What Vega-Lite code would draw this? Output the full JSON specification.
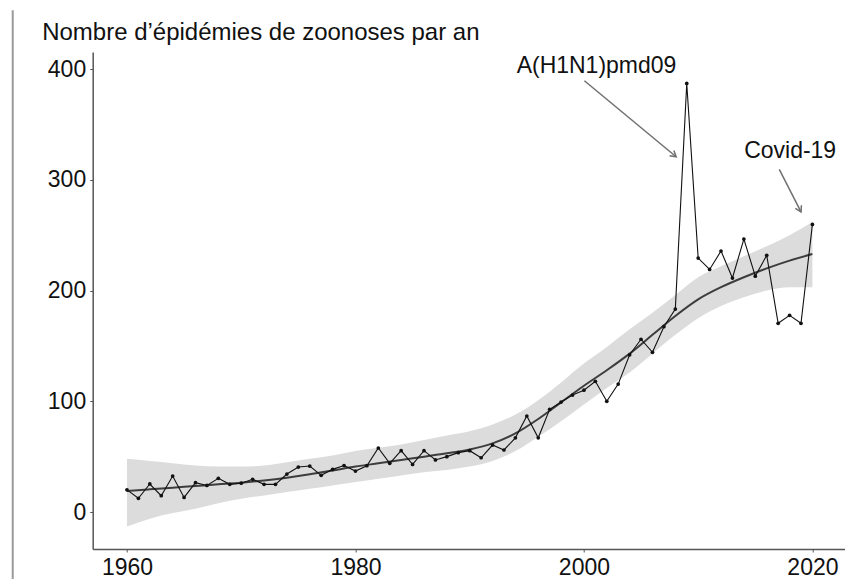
{
  "$schema": "https://vega.github.io/schema/vega-lite/v6.json",
  "width": 754,
  "height": 497,
  "autosize": {"type": "none"},
  "padding": {"left": 92.7, "top": 52, "right": 0, "bottom": 30},
  "background": "white",
  "config": {
    "view": {"stroke": null},
    "axis": {
      "grid": false,
      "domainColor": "#555555",
      "domainWidth": 1.5,
      "tickColor": "#555555",
      "tickSize": 3,
      "tickWidth": 1,
      "labelFont": "Liberation Sans",
      "labelFontSize": 23,
      "labelColor": "#111111"
    }
  },
  "datasets": {
    "pts": [
      {"year": 1960, "n": 20}, {"year": 1961, "n": 12.4}, {"year": 1962, "n": 25.3}, {"year": 1963, "n": 14.7},
      {"year": 1964, "n": 32.5}, {"year": 1965, "n": 13.2}, {"year": 1966, "n": 26.5}, {"year": 1967, "n": 24},
      {"year": 1968, "n": 30.4}, {"year": 1969, "n": 25}, {"year": 1970, "n": 26}, {"year": 1971, "n": 29.5},
      {"year": 1972, "n": 25}, {"year": 1973, "n": 25}, {"year": 1974, "n": 34.3}, {"year": 1975, "n": 40.6},
      {"year": 1976, "n": 41.5}, {"year": 1977, "n": 33.1}, {"year": 1978, "n": 38.5}, {"year": 1979, "n": 42},
      {"year": 1980, "n": 37}, {"year": 1981, "n": 41.8}, {"year": 1982, "n": 57.8}, {"year": 1983, "n": 44},
      {"year": 1984, "n": 55.4}, {"year": 1985, "n": 43}, {"year": 1986, "n": 55.4}, {"year": 1987, "n": 47},
      {"year": 1988, "n": 50}, {"year": 1989, "n": 53.6}, {"year": 1990, "n": 55.4}, {"year": 1991, "n": 49},
      {"year": 1992, "n": 60.5}, {"year": 1993, "n": 56}, {"year": 1994, "n": 67}, {"year": 1995, "n": 86.7},
      {"year": 1996, "n": 67}, {"year": 1997, "n": 92.7}, {"year": 1998, "n": 99.3}, {"year": 1999, "n": 105.6},
      {"year": 2000, "n": 110}, {"year": 2001, "n": 118}, {"year": 2002, "n": 100}, {"year": 2003, "n": 115.5},
      {"year": 2004, "n": 142}, {"year": 2005, "n": 156}, {"year": 2006, "n": 144.2}, {"year": 2007, "n": 167.3},
      {"year": 2008, "n": 183.3}, {"year": 2009, "n": 387}, {"year": 2010, "n": 229.3}, {"year": 2011, "n": 219},
      {"year": 2012, "n": 235.7}, {"year": 2013, "n": 211.3}, {"year": 2014, "n": 246.5}, {"year": 2015, "n": 213},
      {"year": 2016, "n": 231.8}, {"year": 2017, "n": 170.4}, {"year": 2018, "n": 177.6}, {"year": 2019, "n": 170.4},
      {"year": 2020, "n": 259.7}
    ],
    "fit": [
      {"year": 1960, "fit": 19, "lo": -13, "hi": 48},
      {"year": 1962, "fit": 20.5, "lo": -6, "hi": 46},
      {"year": 1964, "fit": 22, "lo": -1, "hi": 44},
      {"year": 1966, "fit": 23.5, "lo": 3, "hi": 42},
      {"year": 1968, "fit": 25, "lo": 8, "hi": 41},
      {"year": 1970, "fit": 26.5, "lo": 12, "hi": 41},
      {"year": 1972, "fit": 28.5, "lo": 15, "hi": 42},
      {"year": 1974, "fit": 31, "lo": 18, "hi": 45},
      {"year": 1976, "fit": 34, "lo": 21, "hi": 48},
      {"year": 1978, "fit": 37.5, "lo": 24, "hi": 51},
      {"year": 1980, "fit": 41, "lo": 27, "hi": 55},
      {"year": 1982, "fit": 44, "lo": 30, "hi": 58},
      {"year": 1984, "fit": 47, "lo": 33, "hi": 61},
      {"year": 1986, "fit": 50, "lo": 36, "hi": 65},
      {"year": 1988, "fit": 53, "lo": 38, "hi": 69},
      {"year": 1990, "fit": 56.5, "lo": 41, "hi": 73},
      {"year": 1992, "fit": 62, "lo": 46, "hi": 79},
      {"year": 1994, "fit": 71, "lo": 55, "hi": 88},
      {"year": 1996, "fit": 84, "lo": 68, "hi": 101},
      {"year": 1998, "fit": 99, "lo": 82, "hi": 117},
      {"year": 2000, "fit": 114, "lo": 97, "hi": 134},
      {"year": 2002, "fit": 128, "lo": 112, "hi": 149},
      {"year": 2004, "fit": 143, "lo": 126, "hi": 165},
      {"year": 2006, "fit": 160, "lo": 143, "hi": 180},
      {"year": 2008, "fit": 177, "lo": 160, "hi": 196},
      {"year": 2010, "fit": 192, "lo": 175, "hi": 212},
      {"year": 2012, "fit": 203, "lo": 186, "hi": 222},
      {"year": 2014, "fit": 212, "lo": 194, "hi": 231},
      {"year": 2016, "fit": 220, "lo": 200, "hi": 240},
      {"year": 2018, "fit": 227, "lo": 203, "hi": 250},
      {"year": 2020, "fit": 233, "lo": 203, "hi": 262}
    ],
    "arrows": [
      {"label": "h1n1", "x": 2000.04, "y": 389.4, "xend": 2008.07, "yend": 320.8},
      {"label": "covid", "x": 2017.1, "y": 309.4, "xend": 2019.0, "yend": 271}
    ],
    "notes": [
      {"text": "A(H1N1)pmd09", "x": 2001.1, "y": 403},
      {"text": "Covid-19", "x": 2018.05, "y": 326}
    ],
    "border": [
      {"x": 1950, "y": 453, "yend": -61}
    ]
  },
  "encoding": {
    "x": {"type": "quantitative", "scale": {"domain": [1957, 2023], "nice": false, "zero": false}},
    "y": {"type": "quantitative", "scale": {"domain": [-33.4, 415.4], "nice": false, "zero": false}}
  },
  "layer": [
    {
      "data": {"name": "fit"},
      "mark": {"type": "area", "color": "#dcdcdc", "opacity": 1, "interpolate": "monotone"},
      "encoding": {
        "x": {"field": "year", "type": "quantitative", "axis": {"values": [1960, 1980, 2000, 2020], "format": "d", "labelPadding": 5, "title": null}},
        "y": {"field": "lo", "type": "quantitative", "axis": {
          "values": [0, 100, 200, 300, 400], "labelPadding": 4,
          "title": "Nombre d’épidémies de zoonoses par an",
          "titleAngle": 0, "titleX": -51, "titleY": -13,
          "titleAlign": "left", "titleBaseline": "alphabetic",
          "titleFont": "Liberation Sans", "titleFontSize": 24, "titleFontWeight": "normal", "titleColor": "#111111"
        }},
        "y2": {"field": "hi"}
      }
    },
    {
      "data": {"name": "fit"},
      "mark": {"type": "line", "color": "#3d3d3d", "strokeWidth": 2, "interpolate": "monotone"},
      "encoding": {
        "x": {"field": "year", "type": "quantitative"},
        "y": {"field": "fit", "type": "quantitative"}
      }
    },
    {
      "data": {"name": "pts"},
      "mark": {"type": "line", "color": "#111111", "strokeWidth": 1.1},
      "encoding": {
        "x": {"field": "year", "type": "quantitative"},
        "y": {"field": "n", "type": "quantitative"}
      }
    },
    {
      "data": {"name": "pts"},
      "mark": {"type": "circle", "color": "#111111", "size": 14, "opacity": 1},
      "encoding": {
        "x": {"field": "year", "type": "quantitative"},
        "y": {"field": "n", "type": "quantitative"}
      }
    },
    {
      "data": {"name": "arrows"},
      "mark": {"type": "rule", "color": "#707070", "strokeWidth": 1.5},
      "encoding": {
        "x": {"field": "x", "type": "quantitative"},
        "y": {"field": "y", "type": "quantitative"},
        "x2": {"field": "xend"},
        "y2": {"field": "yend"}
      }
    },
    {
      "data": {"name": "border"},
      "mark": {"type": "rule", "color": "#9a9a9a", "strokeWidth": 2},
      "encoding": {
        "x": {"field": "x", "type": "quantitative"},
        "y": {"field": "y", "type": "quantitative"},
        "y2": {"field": "yend"}
      }
    },
    {
      "data": {"name": "arrows"},
      "transform": [{"filter": "datum.label === 'h1n1'"}],
      "mark": {"type": "point", "shape": "M -1 -0.6 L 0 0 L -1 0.6", "filled": false, "stroke": "#707070", "strokeWidth": 1.5, "size": 130, "angle": 39.6, "opacity": 1},
      "encoding": {
        "x": {"field": "xend", "type": "quantitative"},
        "y": {"field": "yend", "type": "quantitative"}
      }
    },
    {
      "data": {"name": "arrows"},
      "transform": [{"filter": "datum.label === 'covid'"}],
      "mark": {"type": "point", "shape": "M -1 -0.6 L 0 0 L -1 0.6", "filled": false, "stroke": "#707070", "strokeWidth": 1.5, "size": 130, "angle": 62.9, "opacity": 1},
      "encoding": {
        "x": {"field": "xend", "type": "quantitative"},
        "y": {"field": "yend", "type": "quantitative"}
      }
    },
    {
      "data": {"name": "notes"},
      "mark": {"type": "text", "font": "Liberation Sans", "fontSize": 23, "color": "#111111", "align": "center", "baseline": "middle"},
      "encoding": {
        "x": {"field": "x", "type": "quantitative"},
        "y": {"field": "y", "type": "quantitative"},
        "text": {"field": "text"}
      }
    }
  ]
}
